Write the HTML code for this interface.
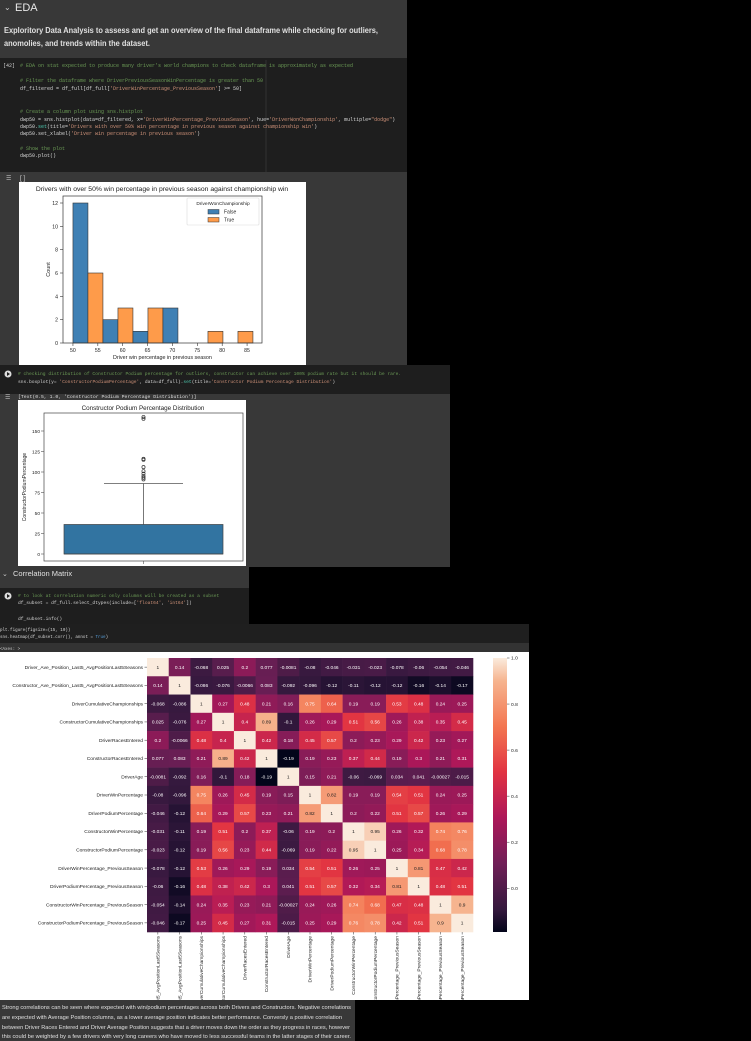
<!DOCTYPE html>
<html><head><meta charset="utf-8">
<style>
html,body{margin:0;padding:0;background:#000;}
svg{display:block;font-family:"Liberation Sans",sans-serif;}
.mono{font-family:"Liberation Mono",monospace;}
</style></head>
<body>
<svg id="page" width="751" height="1041" viewBox="0 0 751 1041" xmlns="http://www.w3.org/2000/svg">
  <rect x="0" y="0" width="751" height="1041" fill="#000"/>
  <g>
    <rect x="0" y="0" width="407" height="58" fill="#383838"/>
    <text x="4" y="10" font-size="8" fill="#ccc">⌄</text>
    <text x="15" y="11" font-size="11" fill="#e8e8e8">EDA</text>
    <text x="4" y="33" font-size="8" fill="#e0e0e0" font-weight="bold" textLength="374" lengthAdjust="spacingAndGlyphs">Exploritory Data Analysis to assess and get an overview of the final dataframe while checking for outliers,</text>
    <text x="4" y="46" font-size="8" fill="#e0e0e0" font-weight="bold" textLength="146" lengthAdjust="spacingAndGlyphs">anomolies, and trends within the dataset.</text>
  </g>
  <g class="mono" font-size="5">
    <rect x="0" y="58" width="407" height="114" fill="#1e1e1e"/>
    <line x1="266" y1="60" x2="266" y2="172" stroke="#3a3a3a" stroke-width="0.7"/>
    <text x="3" y="67" fill="#d4d4d4">[42]</text>
    <text x="20" y="67" fill="#6a9955">#  EDA on stat expected to produce many driver's world champions to check dataframe is approximately as expected</text>
    <text x="20" y="82" fill="#6a9955">#  Filter the dataframe where DriverPreviousSeasonWinPercentage is greater than 50</text>
    <text x="20" y="90" fill="#d4d4d4">df_filtered = df_full[df_full[<tspan fill="#ce9178">'DriverWinPercentage_PreviousSeason'</tspan>] &gt;= 50]</text>
    <text x="20" y="113" fill="#6a9955">#  Create a column plot using sns.histplot</text>
    <text x="20" y="121" fill="#d4d4d4">dwp50 = sns.histplot(data=df_filtered, x=<tspan fill="#ce9178">'DriverWinPercentage_PreviousSeason'</tspan>, hue=<tspan fill="#ce9178">'DriverWonChampionship'</tspan>, multiple=<tspan fill="#ce9178">"dodge"</tspan>)</text>
    <text x="20" y="128" fill="#d4d4d4">dwp50.<tspan fill="#4ec9b0">set</tspan>(title=<tspan fill="#ce9178">'Drivers with over 50% win percentage in previous season against championship win'</tspan>)</text>
    <text x="20" y="135" fill="#d4d4d4">dwp50.set_xlabel(<tspan fill="#ce9178">'Driver win percentage in previous season'</tspan>)</text>
    <text x="20" y="150" fill="#6a9955">#  Show the plot</text>
    <text x="20" y="157" fill="#d4d4d4">dwp50.plot()</text>
  </g>
  <g>
    <rect x="0" y="172" width="407" height="193" fill="#383838"/>
    <text x="6" y="180" font-size="6" fill="#bbb">☰</text>
    <text x="19" y="180" font-size="6" class="mono" fill="#ccc">[]</text>
    <rect x="19" y="182" width="287" height="183" fill="#fff"/>
    <text x="162" y="191" font-size="6.8" text-anchor="middle" fill="#222">Drivers with over 50% win percentage in previous season against championship win</text>
    <g id="hist"></g>
  </g>
  <g class="mono" font-size="4.6">
    <rect x="0" y="365" width="450" height="29" fill="#1e1e1e"/>
    <circle cx="8" cy="374" r="3.5" fill="#ddd"/>
    <path d="M7 372 L10 374 L7 376Z" fill="#1e1e1e"/>
    <text x="18" y="375" fill="#6a9955"># checking distribution of Constructor Podium percentage for outliers, constructor can achieve over 100% podium rate but it should be rare.</text>
    <text x="18" y="383" fill="#d4d4d4">sns.boxplot(y= <tspan fill="#ce9178">'ConstructorPodiumPercentage'</tspan>, data=df_full).<tspan fill="#4ec9b0">set</tspan>(title=<tspan fill="#ce9178">'Constructor Podium Percentage Distribution'</tspan>)</text>
  </g>
  <g>
    <rect x="0" y="394" width="450" height="173" fill="#383838"/>
    <text x="5" y="399" font-size="6" fill="#bbb">☰</text>
    <text x="18" y="398" font-size="4.8" class="mono" fill="#ddd">[Text(0.5, 1.0, 'Constructor Podium Percentage Distribution')]</text>
    <rect x="18" y="400" width="228" height="166" fill="#fff"/>
    <text x="143" y="410" font-size="6.3" text-anchor="middle" fill="#222">Constructor Podium Percentage Distribution</text>
    <g id="box"></g>
  </g>
  <g>
    <rect x="0" y="567" width="249" height="21" fill="#383838"/>
    <text x="2" y="576" font-size="7" fill="#ccc">⌄</text>
    <text x="13" y="576" font-size="7.5" fill="#e0e0e0">Correlation Matrix</text>
  </g>
  <g class="mono" font-size="4.6">
    <rect x="0" y="588" width="249" height="36" fill="#1e1e1e"/>
    <circle cx="8" cy="596" r="3.5" fill="#ddd"/>
    <path d="M7 594 L10 596 L7 598Z" fill="#1e1e1e"/>
    <text x="18" y="597" fill="#6a9955"># to look at correlation numeric only columns will be created as a subset</text>
    <text x="18" y="604" fill="#d4d4d4">df_subset = df_full.select_dtypes(include=[<tspan fill="#ce9178">'float64'</tspan>, <tspan fill="#ce9178">'int64'</tspan>])</text>
    <text x="18" y="620" fill="#d4d4d4">df_subset.info()</text>
  </g>
  <g class="mono" font-size="4.2">
    <rect x="0" y="624" width="529" height="19" fill="#1f1f1f"/>
    <text x="0" y="631" fill="#d4d4d4">plt.figure(figsize=(15, 10))</text>
    <text x="0" y="638" fill="#d4d4d4">sns.heatmap(df_subset.corr(), annot = <tspan fill="#569cd6">True</tspan>)</text>
    <rect x="0" y="643" width="529" height="9" fill="#333"/>
    <text x="0" y="650" fill="#ccc">&lt;Axes: &gt;</text>
  </g>
  <rect x="0" y="652" width="529" height="348" fill="#fff"/>
  <defs>
    <linearGradient id="rocket" x1="0" y1="1" x2="0" y2="0">
      <stop offset="0" stop-color="#03051a"/><stop offset="0.083" stop-color="#35193e"/>
      <stop offset="0.25" stop-color="#701f57"/><stop offset="0.417" stop-color="#ad1759"/>
      <stop offset="0.583" stop-color="#e13342"/><stop offset="0.75" stop-color="#f37651"/>
      <stop offset="0.917" stop-color="#f6b48f"/><stop offset="1" stop-color="#faebdd"/>
    </linearGradient>
    <clipPath id="hmclip"><rect x="0" y="652" width="529" height="348"/></clipPath>
  </defs>
  <g id="heat" clip-path="url(#hmclip)"></g>
  <g>
    <rect x="0" y="1000" width="355" height="41" fill="#383838"/>
    <text x="2" y="1009" font-size="5.6" fill="#e0e0e0" textLength="349" lengthAdjust="spacingAndGlyphs">Strong correlations can be seen where expected with win/podium percentages across both Drivers and Constructors. Negative correlations</text>
    <text x="2" y="1019" font-size="5.6" fill="#e0e0e0" textLength="340" lengthAdjust="spacingAndGlyphs">are expected with Average Position columns, as a lower average position indicates better performance. Conversly a positive correlation</text>
    <text x="2" y="1029" font-size="5.6" fill="#e0e0e0" textLength="348" lengthAdjust="spacingAndGlyphs">between Driver Races Entered and Driver Average Position suggests that a driver moves down the order as they progress in races, however</text>
    <text x="2" y="1038" font-size="5.6" fill="#e0e0e0" textLength="349" lengthAdjust="spacingAndGlyphs">this could be weighted by a few drivers with very long careers who have moved to less successful teams in the latter stages of their career.</text>
  </g>
</svg>
<script>
const histBinStarts = [50, 56.03, 62.06, 68.09, 74.12, 80.15];
const histBinWidth = 6.03;
const histFalse = [12, 2, 1, 3, 0, 0];
const histTrue = [6, 3, 3, 0, 1, 1];
const histXTicks = [50, 55, 60, 65, 70, 75, 80, 85];
const histYTicks = [0, 2, 4, 6, 8, 10, 12];
const boxStats = [0, 0, 36, 86];
const boxOutliers = [91, 93, 95, 98, 101, 106, 115, 116, 165, 167];
const boxYTicks = [0, 25, 50, 75, 100, 125, 150];
const heatLabels = ["Driver_Ave_Position_Last5_AvgPositionLast5Seasons","Constructor_Ave_Position_Last5_AvgPositionLast5Seasons","DriverCumulativeChampionships","ConstructorCumulativeChampionships","DriverRacesEntered","ConstructorRacesEntered","DriverAge","DriverWinPercentage","DriverPodiumPercentage","ConstructorWinPercentage","ConstructorPodiumPercentage","DriverWinPercentage_PreviousSeason","DriverPodiumPercentage_PreviousSeason","ConstructorWinPercentage_PreviousSeason","ConstructorPodiumPercentage_PreviousSeason"];
const heatRow0 = [1,0.14,-0.068,0.025,0.2,0.077,-0.0081,-0.08,-0.046,-0.031,-0.023,-0.078,-0.06,-0.054,-0.046];
const heatRow1 = [0.14,1,-0.086,-0.076,-0.0066,0.083,-0.092,-0.096,-0.12,-0.11,-0.12,-0.12,-0.16,-0.14,-0.17];
const heatRow2 = [-0.068,-0.086,1,0.27,0.48,0.21,0.16,0.75,0.64,0.19,0.19,0.53,0.48,0.24,0.25];
const heatRow3 = [0.025,-0.076,0.27,1,0.4,0.89,-0.1,0.26,0.29,0.51,0.56,0.26,0.38,0.35,0.45];
const heatRow4 = [0.2,-0.0066,0.48,0.4,1,0.42,0.18,0.45,0.57,0.2,0.23,0.29,0.42,0.23,0.27];
const heatRow5 = [0.077,0.083,0.21,0.89,0.42,1,-0.19,0.19,0.23,0.37,0.44,0.19,0.3,0.21,0.31];
const heatRow6 = [-0.0081,-0.092,0.16,-0.1,0.18,-0.19,1,0.15,0.21,-0.06,-0.069,0.034,0.041,-0.00027,-0.015];
const heatRow7 = [-0.08,-0.096,0.75,0.26,0.45,0.19,0.15,1,0.82,0.19,0.19,0.54,0.51,0.24,0.25];
const heatRow8 = [-0.046,-0.12,0.64,0.29,0.57,0.23,0.21,0.82,1,0.2,0.22,0.51,0.57,0.26,0.29];
const heatRow9 = [-0.031,-0.11,0.19,0.51,0.2,0.37,-0.06,0.19,0.2,1,0.95,0.26,0.32,0.74,0.76];
const heatRow10 = [-0.023,-0.12,0.19,0.56,0.23,0.44,-0.069,0.19,0.22,0.95,1,0.25,0.34,0.68,0.78];
const heatRow11 = [-0.078,-0.12,0.53,0.26,0.29,0.19,0.034,0.54,0.51,0.26,0.25,1,0.81,0.47,0.42];
const heatRow12 = [-0.06,-0.16,0.48,0.38,0.42,0.3,0.041,0.51,0.57,0.32,0.34,0.81,1,0.48,0.51];
const heatRow13 = [-0.054,-0.14,0.24,0.35,0.23,0.21,-0.00027,0.24,0.26,0.74,0.68,0.47,0.48,1,0.9];
const heatRow14 = [-0.046,-0.17,0.25,0.45,0.27,0.31,-0.015,0.25,0.29,0.76,0.78,0.42,0.51,0.9,1];
const heatMatrix = [heatRow0,heatRow1,heatRow2,heatRow3,heatRow4,heatRow5,heatRow6,heatRow7,heatRow8,heatRow9,heatRow10,heatRow11,heatRow12,heatRow13,heatRow14];
const colorbarTicks = [0.0, 0.2, 0.4, 0.6, 0.8, 1.0];

const NS = "http://www.w3.org/2000/svg";
function mk(parent, tag, attrs, txt) {
  const e = document.createElementNS(NS, tag);
  for (const k in attrs) e.setAttribute(k, attrs[k]);
  if (txt !== undefined) e.textContent = txt;
  parent.appendChild(e);
  return e;
}

(function(){
  const g = document.getElementById('hist');
  const L = 63, R = 262, T = 196, B = 343;
  const xMin = 48, xMax = 88, yMax = 12.6;
  const hx = v => L + (v - xMin) / (xMax - xMin) * (R - L);
  const hy = v => B - v / yMax * (B - T);
  histYTicks.forEach(t => {
    mk(g, 'line', {x1: L - 3, x2: L, y1: hy(t), y2: hy(t), stroke: '#333', 'stroke-width': 0.6});
    const tl = mk(g, 'text', {x: L - 5, y: hy(t) + 2, 'font-size': 5.2, 'text-anchor': 'end', fill: '#222'}, t);
    
    
  });
  histXTicks.forEach(t => {
    mk(g, 'line', {x1: hx(t), x2: hx(t), y1: B, y2: B + 3, stroke: '#333', 'stroke-width': 0.6});
    const tl = mk(g, 'text', {x: hx(t), y: B + 9, 'font-size': 5.2, 'text-anchor': 'middle', fill: '#222'}, t);
    
    
  });
  histBinStarts.forEach((s, i) => {
    const half = histBinWidth / 2;
    if (histFalse[i] > 0) {
      const b = mk(g, 'rect', {x: hx(s), y: hy(histFalse[i]), width: hx(s + half) - hx(s), height: B - hy(histFalse[i]), fill: '#3f80b4', stroke: '#333', 'stroke-width': 0.6});
      
      
    }
    if (histTrue[i] > 0) {
      const b = mk(g, 'rect', {x: hx(s + half), y: hy(histTrue[i]), width: hx(s + histBinWidth) - hx(s + half), height: B - hy(histTrue[i]), fill: '#fe9b4a', stroke: '#333', 'stroke-width': 0.6});
      
      
    }
  });
  mk(g, 'rect', {x: L, y: T, width: R - L, height: B - T, fill: 'none', stroke: '#333', 'stroke-width': 0.7});
  const xl = mk(g, 'text', {x: (L + R) / 2, y: 359, 'font-size': 5.4, 'text-anchor': 'middle', fill: '#222'}, 'Driver win percentage in previous season');
  
  
  const yl = mk(g, 'text', {x: 0, y: 0, 'font-size': 5.4, 'text-anchor': 'middle', fill: '#222', transform: 'translate(50,' + (T + B) / 2 + ') rotate(-90)'}, 'Count');
  
  
  const lg = mk(g, 'g', {});
  
  
  mk(lg, 'rect', {x: 187, y: 198, width: 72, height: 27, fill: '#fff', stroke: '#ddd', 'stroke-width': 0.6, rx: 1});
  mk(lg, 'text', {x: 223, y: 205, 'font-size': 4.8, 'text-anchor': 'middle', fill: '#222'}, 'DriverWonChampionship');
  mk(lg, 'rect', {x: 208, y: 209.5, width: 11, height: 4.5, fill: '#3f80b4', stroke: '#333', 'stroke-width': 0.5});
  mk(lg, 'text', {x: 224, y: 213.5, 'font-size': 5, fill: '#222'}, 'False');
  mk(lg, 'rect', {x: 208, y: 217.5, width: 11, height: 4.5, fill: '#fe9b4a', stroke: '#333', 'stroke-width': 0.5});
  mk(lg, 'text', {x: 224, y: 221.5, 'font-size': 5, fill: '#222'}, 'True');
})();

(function(){
  const g = document.getElementById('box');
  const L = 44, R = 243, T = 413, B = 561;
  const by = v => 554 - v * 0.82;
  const cx = (L + R) / 2;
  boxYTicks.forEach(t => {
    mk(g, 'line', {x1: L - 3, x2: L, y1: by(t), y2: by(t), stroke: '#333', 'stroke-width': 0.5});
    const tl = mk(g, 'text', {x: L - 4, y: by(t) + 1.8, 'font-size': 4.8, 'text-anchor': 'end', fill: '#222'}, t);
    
    
  });
  mk(g, 'line', {x1: cx, x2: cx, y1: B, y2: B + 3, stroke: '#333', 'stroke-width': 0.5});
  const [q1, med, q3, wh] = boxStats;
  mk(g, 'line', {x1: cx, x2: cx, y1: by(q3), y2: by(wh), stroke: '#555', 'stroke-width': 0.8});
  mk(g, 'line', {x1: 104, x2: 183, y1: by(wh), y2: by(wh), stroke: '#555', 'stroke-width': 0.8});
  const bx = mk(g, 'rect', {x: 64, y: by(q3), width: 159, height: by(q1) - by(q3), fill: '#3274a1', stroke: '#444', 'stroke-width': 0.7});
  
  
  mk(g, 'line', {x1: 64, x2: 223, y1: by(med), y2: by(med), stroke: '#444', 'stroke-width': 0.8});
  boxOutliers.forEach(v => {
    const c = mk(g, 'circle', {cx: cx, cy: by(v), r: 1.6, fill: 'none', stroke: '#333', 'stroke-width': 0.7});
    
    
  });
  mk(g, 'rect', {x: L, y: T, width: R - L, height: B - T, fill: 'none', stroke: '#444', 'stroke-width': 0.7});
  const yl = mk(g, 'text', {x: 0, y: 0, 'font-size': 5, 'text-anchor': 'middle', fill: '#222', transform: 'translate(26,' + (T + B) / 2 + ') rotate(-90)'}, 'ConstructorPodiumPercentage');
  
  
})();

(function(){
  const g = document.getElementById('heat');
  const L = 147, R = 473, T = 658, B = 932;
  const n = heatLabels.length;
  const cw = (R - L) / n, ch = (B - T) / n;
  const vmin = -0.19, vmax = 1;
  const stops = [[0,[3,5,26]],[0.083,[53,25,62]],[0.25,[112,31,87]],[0.417,[173,23,89]],[0.583,[225,51,66]],[0.75,[243,118,81]],[0.917,[246,180,143]],[1,[250,235,221]]];
  function cmap(v) {
    let t = Math.max(0, Math.min(1, (v - vmin) / (vmax - vmin)));
    for (let i = 1; i < stops.length; i++) {
      if (t <= stops[i][0]) {
        const a = stops[i-1], b = stops[i];
        const f = (t - a[0]) / (b[0] - a[0]);
        return 'rgb(' + a[1].map((c, k) => Math.round(c + (b[1][k] - c) * f)).join(',') + ')';
      }
    }
    return 'rgb(250,235,221)';
  }
  heatMatrix.forEach((row, r) => {
    row.forEach((v, c) => {
      const cell = mk(g, 'rect', {x: L + c * cw, y: T + r * ch, width: cw + 0.3, height: ch + 0.3, fill: cmap(v)});
      
      
      const t = mk(g, 'text', {x: L + (c + 0.5) * cw, y: T + (r + 0.5) * ch + 1.7, 'font-size': 4.8, 'text-anchor': 'middle', fill: v > 0.8 ? '#222' : '#fff'}, String(v));
      
      
    });
  });
  heatLabels.forEach((lab, i) => {
    const y = T + (i + 0.5) * ch;
    mk(g, 'line', {x1: L - 2.5, x2: L, y1: y, y2: y, stroke: '#333', 'stroke-width': 0.5});
    const rl = mk(g, 'text', {x: L - 4, y: y + 1.7, 'font-size': 4.9, 'text-anchor': 'end', fill: '#222'}, lab);
    
    
    const x = L + (i + 0.5) * cw;
    mk(g, 'line', {x1: x, x2: x, y1: B, y2: B + 2.5, stroke: '#333', 'stroke-width': 0.5});
    const cl = mk(g, 'text', {x: 0, y: 0, 'font-size': 4.9, 'text-anchor': 'end', fill: '#222', transform: 'translate(' + (x + 1.7) + ',' + (B + 4) + ') rotate(-90)'}, lab);
    
    
  });
  const cb = mk(g, 'rect', {x: 493, y: T, width: 14, height: B - T, fill: 'url(#rocket)'});
  
  
  const cby = v => B - (v - vmin) / (vmax - vmin) * (B - T);
  colorbarTicks.forEach(t => {
    mk(g, 'line', {x1: 507, x2: 509.5, y1: cby(t), y2: cby(t), stroke: '#333', 'stroke-width': 0.5});
    const tl = mk(g, 'text', {x: 511, y: cby(t) + 1.7, 'font-size': 4.9, fill: '#222'}, t.toFixed(1));
    
    
  });
})();
</script>
</body></html>
